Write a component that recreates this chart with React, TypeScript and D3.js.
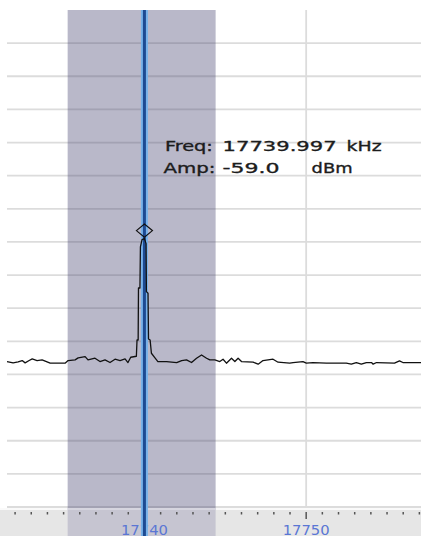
import * as React from 'react';
import { scaleLinear, line, range } from 'd3';

// trace, kHz / dBm
const freqs = [
    17731.5, 17731.88, 17732.19, 17732.44, 17732.62, 17732.87, 17733.06, 17733.36, 17733.67, 17734.17,
    17735.09, 17735.28, 17735.71, 17735.9, 17736.33, 17736.51, 17736.94, 17737.25, 17737.56, 17737.87,
    17738.18, 17738.49, 17738.8, 17738.98, 17739.15, 17739.5, 17739.54, 17739.61, 17739.63, 17739.72,
    17739.75, 17739.85, 17739.997, 17740.1, 17740.12, 17740.22, 17740.25, 17740.35, 17740.43, 17740.65,
    17740.83, 17741.37, 17741.99, 17742.3, 17742.6, 17742.91, 17743.22, 17743.53, 17743.84, 17744.04,
    17744.35, 17744.66, 17744.86, 17745.07, 17745.38, 17745.59, 17745.79, 17746.0, 17746.72, 17747.03,
    17747.33, 17747.95, 17748.26, 17748.98, 17749.19, 17749.8, 17750.01, 17750.42, 17751.25, 17752.48,
    17752.79, 17753.1, 17753.41, 17753.72, 17754.04, 17754.14, 17754.35, 17755.46, 17755.77, 17755.98,
    17757.1
];
const amps = [
    -96.1, -96.5, -96.2, -95.8, -96.5, -95.8, -95.3, -95.8, -95.6, -96.6,
    -96.6, -95.8, -95.6, -95.0, -94.6, -95.6, -95.1, -96.1, -95.6, -96.4,
    -95.4, -95.8, -95.3, -96.4, -94.8, -94.5, -89.6, -89.6, -73.9, -73.9,
    -61.5, -59.3, -59.0, -60.5, -75.0, -75.5, -89.3, -89.6, -93.6, -95.0,
    -96.1, -96.1, -96.4, -95.8, -95.6, -96.4, -95.1, -94.1, -95.1, -95.6,
    -95.6, -96.1, -95.4, -96.6, -95.1, -96.1, -95.1, -96.1, -96.3, -96.9,
    -95.8, -95.4, -96.3, -96.6, -96.4, -96.1, -96.6, -96.4, -96.6, -96.6,
    -96.9, -96.4, -96.9, -96.4, -96.4, -96.9, -96.4, -96.6, -95.9, -96.4,
    -96.4
];

const ampGrid = range(0, -141, -10);
const freqGrid = [17740, 17750];
const freqLabels = [17740, 17750];
const minorTicks = range(17732, 17758);
const markerFreq = 17739.997;
const markerAmp = -59.0;
const spanStart = 17735.25;
const spanEnd = 17744.4;

const W = 421;
const H = 536;
const margin = { top: 10, left: 7, bottom: 29 };
const plotBottom = H - margin.bottom;

const xScale = scaleLinear().domain([17731.5, 17757.1]).range([margin.left, W]);
const yScale = scaleLinear().domain([10, -140]).range([margin.top, plotBottom]);

const font = 'DejaVu Sans, Verdana, sans-serif';

export default function App() {
    const pts = freqs.map((f, i) => [f, amps[i]] as [number, number]);
    const trace = line<[number, number]>()
        .x(d => xScale(d[0]))
        .y(d => yScale(d[1]))(pts) || '';

    const mx = xScale(markerFreq);
    const my = yScale(markerAmp) - 8;
    const sx0 = xScale(spanStart);
    const sx1 = xScale(spanEnd);
    const tx = mx + 20.5;

    return (
        <div style={{ position: 'fixed', left: 0, top: 0 }}>
            <svg width={W} height={H} style={{ display: 'block', background: '#fff' }}>
                {/* grid */}
                {ampGrid.map(a => (
                    <line key={a} x1={margin.left} x2={W} y1={yScale(a)} y2={yScale(a)}
                        stroke="#dcdcdc" strokeWidth={1.8} />
                ))}
                {freqGrid.map(f => (
                    <line key={f} x1={xScale(f)} x2={xScale(f)} y1={margin.top} y2={plotBottom}
                        stroke="#dcdcdc" strokeWidth={1.8} />
                ))}

                {/* axis band */}
                <rect x={0} y={plotBottom + 1} width={W} height={H - plotBottom} fill="#e6e6e6" />
                <line x1={0} x2={W} y1={plotBottom + 2} y2={plotBottom + 2} stroke="#fafafa" strokeWidth={2} />
                <rect x={sx0} y={plotBottom + 1} width={sx1 - sx0} height={H - plotBottom} fill="#c6c5d1" />
                <line x1={sx0} x2={sx1} y1={plotBottom + 2} y2={plotBottom + 2} stroke="#d6d5df" strokeWidth={2} />

                {/* span shading */}
                <rect x={sx0} y={margin.top} width={sx1 - sx0} height={plotBottom - margin.top + 1}
                    fill="rgb(66,63,109)" fillOpacity={0.37} />

                {minorTicks.map(f => (
                    <line key={f} x1={xScale(f)} x2={xScale(f)}
                        y1={plotBottom + 5} y2={plotBottom + (f % 10 === 0 ? 12 : 7.5)}
                        stroke="#555" strokeWidth={1.5} />
                ))}
                {freqLabels.map(f => (
                    <text key={f} x={xScale(f)} y={H - 1.5} textAnchor="middle" fontFamily={font}
                        fontSize={13.5} fill="#5a76d4" textLength={47} lengthAdjust="spacingAndGlyphs">
                        {f}
                    </text>
                ))}

                {/* marker line */}
                <line x1={mx} x2={mx} y1={margin.top} y2={H} stroke="#78b2ea" strokeWidth={7} />
                <line x1={mx} x2={mx} y1={margin.top} y2={H} stroke="#1d4a92" strokeWidth={3} />

                <path d={trace} fill="none" stroke="#111" strokeWidth={1.3} strokeLinejoin="round" />

                <path d={`M${mx - 8},${my} L${mx},${my - 6.5} L${mx + 8},${my} L${mx},${my + 6.5} Z`}
                    fill="none" stroke="#111" strokeWidth={1.2} />

                {/* readout */}
                <g fontFamily={font} fontSize={14.5} fill="#1c1c1c" stroke="#1c1c1c" strokeWidth={0.35}>
                    <text x={tx} y={151} textLength={48} lengthAdjust="spacingAndGlyphs">Freq:</text>
                    <text x={tx + 57.7} y={151} textLength={114} lengthAdjust="spacingAndGlyphs">{markerFreq.toFixed(3)}</text>
                    <text x={tx + 181.7} y={151} textLength={35} lengthAdjust="spacingAndGlyphs">kHz</text>
                    <text x={tx - 1.5} y={172.5} textLength={52} lengthAdjust="spacingAndGlyphs">Amp:</text>
                    <text x={tx + 57.7} y={172.5} textLength={57} lengthAdjust="spacingAndGlyphs">{markerAmp.toFixed(1)}</text>
                    <text x={tx + 146.7} y={172.5} textLength={41} lengthAdjust="spacingAndGlyphs">dBm</text>
                </g>
            </svg>
        </div>
    );
}
